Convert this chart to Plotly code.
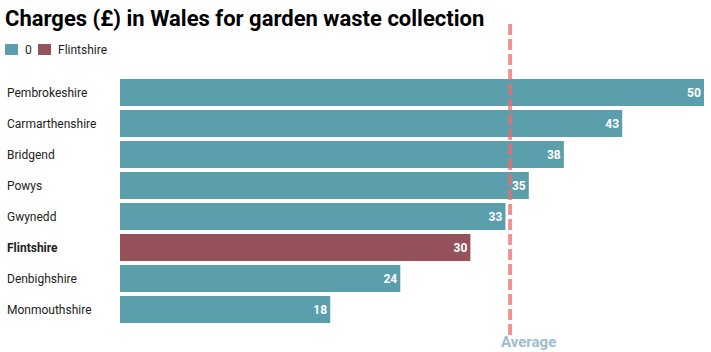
import plotly.graph_objects as go

councils = ["Pembrokeshire", "Carmarthenshire", "Bridgend", "Powys", "Gwynedd",
            "Flintshire", "Denbighshire", "Monmouthshire"]
charges = [50, 43, 38, 35, 33, 30, 24, 18]
highlight = "Flintshire"
average = 33.4
legend_names = ["0", "Flintshire"]

teal = "#5b9eac"
red = "#96525a"

base_vals = [None if c == highlight else v for c, v in zip(councils, charges)]
hl_vals = [v if c == highlight else None for c, v in zip(councils, charges)]

# pixel -> paper helpers (plot area: x 120..704, y 77..325)
def px(x):
    return (x - 120) / 584

def py(y):
    return (325 - y) / 248

fig = go.Figure()
for vals, color, name in [(base_vals, teal, legend_names[0]), (hl_vals, red, legend_names[1])]:
    fig.add_trace(go.Bar(
        y=councils, x=vals, orientation="h", name=name,
        marker=dict(color=color, line=dict(width=0)),
        text=[None if v is None else f"<b>{v}</b>" for v in vals],
        textposition="inside", insidetextanchor="end",
        textfont=dict(color="white", size=12, family="Roboto"),
        hoverinfo="skip", showlegend=False,
    ))

for c in councils:
    fig.add_annotation(
        x=px(5), xref="paper", y=c, yref="y",
        text=f"<b>{c}</b>" if c == highlight else c,
        showarrow=False, xanchor="left", yanchor="middle",
        font=dict(size=12, color="#222222", family="Roboto"),
    )

# manual legend
for (x0, tx), color, name in zip([(5, 23), (38, 56)], [teal, red], legend_names):
    fig.add_shape(type="rect", xref="paper", yref="paper",
                  x0=px(x0), x1=px(x0 + 13), y0=py(55), y1=py(44),
                  fillcolor=color, line=dict(width=0))
    fig.add_annotation(x=px(tx), xref="paper", y=py(49.5), yref="paper",
                       text=name, showarrow=False, xanchor="left", yanchor="middle",
                       font=dict(size=12, color="#222222", family="Roboto"))

fig.add_shape(type="line", x0=average, x1=average, xref="x",
              y0=py(335), y1=py(22), yref="paper",
              line=dict(color="rgba(232,110,110,0.75)", width=4, dash="11px,4px"))
fig.add_annotation(x=average, xref="x", y=py(342), yref="paper",
                   text="<b>Average</b>", showarrow=False,
                   xanchor="center", yanchor="middle", xshift=18,
                   font=dict(size=15, color="#9dbccd", family="Roboto"))

fig.update_layout(
    width=711, height=352,
    margin=dict(l=120, r=7, t=77, b=27),
    paper_bgcolor="white", plot_bgcolor="white",
    barmode="relative", bargap=0.13,
    showlegend=False,
    title=dict(text="<b>Charges (£) in Wales for garden waste collection</b>",
               x=5/711, xanchor="left", xref="container",
               y=1-18/352, yanchor="middle", yref="container",
               font=dict(size=22, color="#000000", family="Roboto")),
    xaxis=dict(range=[0, 50], visible=False, fixedrange=True),
    yaxis=dict(categoryorder="array", categoryarray=councils, autorange="reversed",
               showticklabels=False, showgrid=False, zeroline=False, fixedrange=True),
    font=dict(family="Roboto"),
)

fig.write_html("out.html")
